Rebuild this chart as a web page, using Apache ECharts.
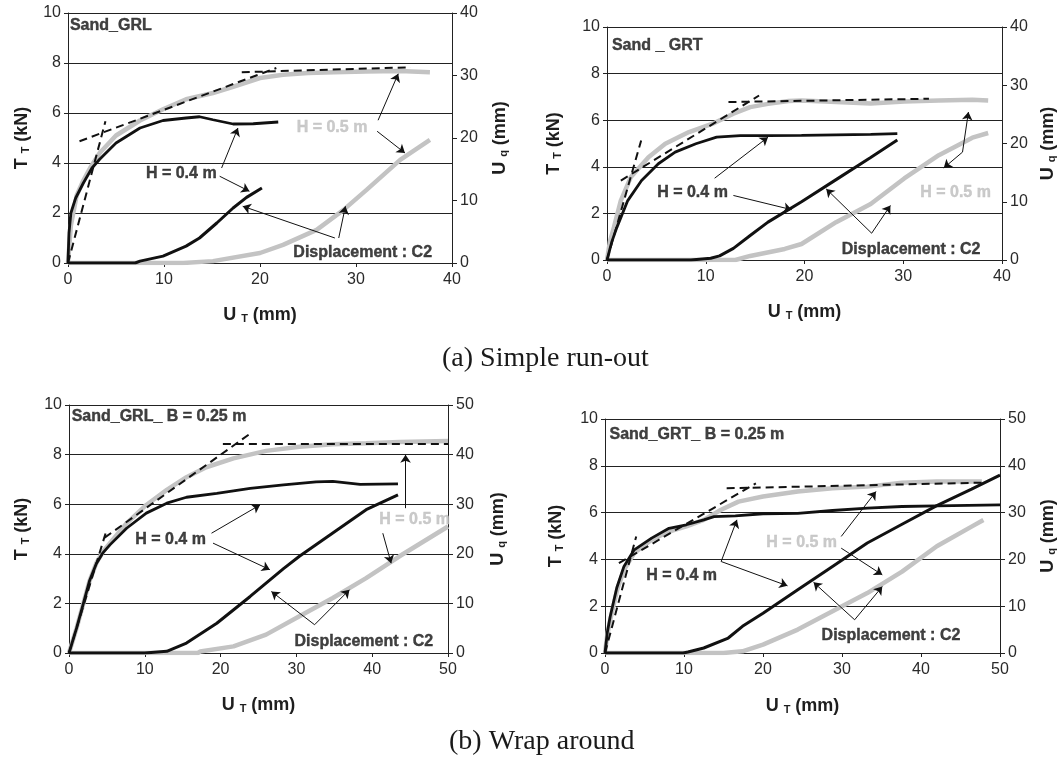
<!DOCTYPE html>
<html>
<head>
<meta charset="utf-8">
<script src="https://cdn.jsdelivr.net/npm/echarts@6/dist/echarts.min.js"></script>
<style>
  html, body { margin: 0; background: #fff; }
  #chart { width: 1064px; height: 763px; }
</style>
</head>
<body>
<div id="chart"></div>
<script>
// --- (a) simple run-out, Sand_GRL ---  [U_T mm, T_T kN] / [U_T mm, U_q mm]
const p1Gray = [[0,0],[0.3,1.5],[0.9,2.7],[1.6,3.3],[2.3,3.8],[3.3,4.4],[5,5.1],[7.5,5.7],[9.9,6.15],[12.3,6.55],[15.1,6.8],[17.2,7.05],[20,7.4],[22.4,7.53],[25,7.6],[27.7,7.63],[31,7.66],[34.6,7.68],[37.7,7.63]];
const p1Black = [[0,0],[0.1,1.2],[0.3,2.0],[0.8,2.6],[1.6,3.2],[2.5,3.8],[3.3,4.15],[5,4.8],[7.5,5.4],[9.9,5.7],[12.3,5.8],[13.7,5.85],[15.1,5.73],[17.2,5.56],[19.3,5.57],[21.9,5.64]];
const p1Dash = [[[0,0],[3.9,5.67]], [[1.2,4.87],[21.7,7.8]], [[18.1,7.63],[35.7,7.83]]];
const p1BlackDisp = [[0,0],[7,0],[7.5,0.3],[9.9,1.1],[12.3,2.7],[13.7,4],[15.5,6.4],[17.2,8.8],[18.6,10.5],[20.2,12]];
const p1GrayDisp = [[0,0],[12,0],[15.1,0.3],[20,1.6],[22.4,2.9],[25.9,5.3],[28.7,8.5],[31.1,11.7],[34.6,16.5],[37.7,19.7]];
const p1Notes = [[0.2,9.5,'Sand_GRL','k','left'],[27.5,5.4,'H = 0.5 m','g'],[11.8,3.57,'H = 0.4 m','k'],[30.7,0.43,'Displacement : C2','k']];
const p1Arrows = [[32.3,5.71,34.4,7.57],[32.2,5.27,35.1,4.4],[16.0,3.8,17.7,5.4],[15.8,3.47,18.9,2.87],[27.8,1.0,18.2,2.27],[28.2,1.0,28.9,2.27]];

// --- (a) simple run-out, Sand_GRT ---
const p2Gray = [[0,0],[0.3,0.8],[0.7,1.4],[1.4,2.55],[2.4,3.55],[4.2,4.41],[5.9,4.99],[8.3,5.49],[10.7,5.85],[12.8,6.28],[14.5,6.56],[16.3,6.7],[18.4,6.82],[19.7,6.85],[23.2,6.78],[26.7,6.72],[30.1,6.8],[33.6,6.85],[37,6.88],[38.6,6.85]];
const p2Black = [[0,0],[0.5,0.8],[1,1.4],[2.1,2.55],[3.5,3.41],[5.2,4.13],[6.9,4.63],[9,4.99],[11.1,5.27],[13.5,5.34],[16.3,5.34],[19.7,5.35],[23.2,5.37],[26.7,5.39],[29.4,5.42]];
const p2Dash = [[[0,0],[3.46,5.13]], [[1.4,3.41],[15.4,7.06]], [[12.3,6.78],[32.6,6.92]]];
const p2BlackDisp = [[0,0],[8.5,0],[10.5,0.3],[11.4,0.7],[12.8,2.0],[14.5,4.2],[16.3,6.5],[19.7,10],[23.2,13.8],[26.7,17.6],[29.4,20.6]];
const p2GrayDisp = [[0,0],[13,0],[14.5,0.7],[18,1.9],[19.7,2.75],[23.2,6.5],[26.7,9.6],[30.1,14],[33.6,18],[37,21],[38.6,21.8]];
const p2Notes = [[0.5,9.21,'Sand _ GRT','k','left'],[8.66,2.88,'H = 0.4 m','k'],[35.3,2.88,'H = 0.5 m','g'],[30.8,0.43,'Displacement : C2','k']];
const p2Arrows = [[10.9,3.51,16.3,5.27],[12.8,2.77,18.7,2.16],[36,4.63,36.6,6.35],[36,4.63,34.1,3.95],[26.8,1.15,22.2,3.05],[26.8,1.15,28.7,2.34]];

// --- (b) wrap around, Sand_GRL B = 0.25 m ---
const p3Gray = [[0,0],[1,1],[1.9,2.0],[2.7,2.9],[3.6,3.62],[4.5,4.1],[5.4,4.43],[7.6,5.23],[10.2,5.97],[12.9,6.58],[15.5,7.09],[18.1,7.49],[21.7,7.85],[26,8.15],[30.4,8.32],[34.8,8.42],[39.2,8.46],[43.6,8.51],[50,8.55]];
const p3Black = [[0,0],[1,1],[1.9,2.0],[2.7,2.9],[3.6,3.6],[4.5,4.05],[5.4,4.36],[7.6,5.03],[10.2,5.64],[12.9,6.04],[15.5,6.28],[19.5,6.44],[23.9,6.64],[28.3,6.78],[32.6,6.9],[34.8,6.92],[38.4,6.8],[43.4,6.82]];
const p3Dash = [[[0,0],[4.9,4.9]], [[4.7,4.65],[24.1,8.89]], [[20.3,8.43],[50,8.43]]];
const p3BlackDisp = [[0,0],[10,0],[12.9,0.34],[15.5,2.0],[19.5,6.0],[23.9,11.4],[28.3,17],[30.4,19.5],[34.8,24.2],[39.2,28.9],[43.4,31.9]];
const p3GrayDisp = [[0,0],[17,0],[17.3,0.3],[21.7,1.34],[26,3.7],[30.4,7.4],[34.8,11.1],[39.2,15.1],[43.6,19.5],[50,25.5]];
const p3Notes = [[0.35,9.53,'Sand_GRL_ B = 0.25 m','k','left'],[13.4,4.56,'H = 0.4 m','k'],[45.6,5.37,'H = 0.5 m','g'],[38.9,0.47,'Displacement : C2','k']];
const p3Arrows = [[18.8,4.83,25.2,5.97],[19,4.43,26.5,3.36],[44.4,5.84,44.4,7.99],[41.4,4.83,42.5,3.62],[32.4,1.14,26.7,2.48],[32.4,1.14,37,2.55]];

// --- (b) wrap around, Sand_GRT B = 0.25 m ---
const p4Gray = [[0,0],[0.3,0.8],[0.66,1.42],[1.54,2.7],[2.4,3.56],[3.7,4.27],[5.9,4.84],[8.1,5.19],[10.3,5.41],[12.5,5.69],[14.7,6.12],[16.9,6.47],[20,6.69],[24.4,6.9],[28.8,7.04],[33.2,7.11],[37.6,7.28],[42,7.33],[47.7,7.33]];
const p4Black = [[0,0],[0.3,0.9],[0.66,1.56],[1.5,2.8],[2.4,3.7],[3.7,4.41],[5.9,4.91],[8.1,5.33],[10.3,5.48],[12.5,5.69],[13.8,5.83],[16.5,5.86],[20,5.95],[24.4,5.97],[28.8,6.09],[33.2,6.19],[37.6,6.26],[42,6.29],[50,6.33]];
const p4Dash = [[[0,0],[3.95,4.98]], [[1.76,3.84],[19.1,7.25]], [[15.4,7.04],[47.9,7.28]]];
const p4BlackDisp = [[0,0],[9.9,0],[10.5,0.2],[12.5,1.07],[15.6,3.2],[17.4,5.7],[20,8.5],[24.4,13.5],[28.8,18.5],[33.2,23.5],[37.6,27.5],[42,31.5],[46.4,35],[50,38]];
const p4GrayDisp = [[0,0],[15,0],[17.4,0.36],[20,1.8],[24.4,5.0],[28.8,8.9],[33.2,12.8],[37.6,17.4],[42,22.8],[46.4,27],[47.9,28.4]];
const p4Notes = [[0.57,9.32,'Sand_GRT_ B = 0.25 m','k','left'],[24.9,4.72,'H = 0.5 m','g'],[9.7,3.3,'H = 0.4 m','k'],[36.2,0.74,'Displacement : C2','k']];
const p4Arrows = [[29.9,4.98,34.3,6.9],[29.9,4.48,35.1,3.34],[14.7,3.91,16.7,5.69],[14.7,3.91,23.1,2.87],[31.6,1.42,26.4,3.02],[31.6,1.42,35.1,2.84]];

const captions = ['(a) Simple run-out', '(b) Wrap around'];

const FONT = 'Liberation Sans, Arial, sans-serif';
const SERIF = 'Liberation Serif, Times New Roman, serif';
const INK = '#111111';
const GREY = '#c3c3c3';
const GREY_TXT = '#bdbdbd';

const panels = [
  { grid: { left: 68, top: 13, width: 384, height: 250 }, xMax: 40, uMax: 40, gaps: [37, 39, 43],
    gray: p1Gray, black: p1Black, dash: p1Dash, blackU: p1BlackDisp, grayU: p1GrayDisp, notes: p1Notes, arrows: p1Arrows },
  { grid: { left: 607, top: 27, width: 395, height: 233 }, xMax: 40, uMax: 40, gaps: [44, 37, 43],
    gray: p2Gray, black: p2Black, dash: p2Dash, blackU: p2BlackDisp, grayU: p2GrayDisp, notes: p2Notes, arrows: p2Arrows },
  { grid: { left: 69, top: 405, width: 379, height: 248 }, xMax: 50, uMax: 50, gaps: [38, 41, 43],
    gray: p3Gray, black: p3Black, dash: p3Dash, blackU: p3BlackDisp, grayU: p3GrayDisp, notes: p3Notes, arrows: p3Arrows },
  { grid: { left: 605, top: 419, width: 395, height: 234 }, xMax: 50, uMax: 50, gaps: [40, 39, 44],
    gray: p4Gray, black: p4Black, dash: p4Dash, blackU: p4BlackDisp, grayU: p4GrayDisp, notes: p4Notes, arrows: p4Arrows },
];

const axisLine = { show: true, lineStyle: { color: '#222', width: 1 } };
const tickLabel = { fontSize: 16, color: '#2a2a2a', fontFamily: FONT };
const nameStyle = {
  fontSize: 18, fontWeight: 'bold', color: '#1e1e1e', fontFamily: FONT,
  rich: { s: { fontSize: 11, fontWeight: 'bold', color: '#1e1e1e', fontFamily: FONT, verticalAlign: 'bottom' } }
};

const grids = [], xAxes = [], yAxes = [], series = [];

panels.forEach((p, i) => {
  grids.push(p.grid);
  xAxes.push({
    gridIndex: i, type: 'value', min: 0, max: p.xMax, interval: 10,
    name: 'U {s|T} (mm)', nameLocation: 'middle', nameGap: p.gaps[2], nameTextStyle: nameStyle,
    axisLine: axisLine, axisTick: { show: true, length: 4, lineStyle: { color: '#222' } },
    axisLabel: Object.assign({ margin: 9 }, tickLabel), splitLine: { show: false },
  });
  yAxes.push({
    gridIndex: i, type: 'value', position: 'left', min: 0, max: 10, interval: 2,
    name: 'T {s|T} (kN)', nameLocation: 'middle', nameRotate: 90, nameGap: p.gaps[0], nameTextStyle: nameStyle,
    axisLine: axisLine, axisTick: { show: true, length: 4, lineStyle: { color: '#222' } },
    axisLabel: Object.assign({ margin: 7 }, tickLabel),
    splitLine: { show: true, lineStyle: { color: '#222', width: 1 } },
  });
  yAxes.push({
    gridIndex: i, type: 'value', position: 'right', min: 0, max: p.uMax, interval: 10,
    name: 'U {s|q} (mm)', nameLocation: 'middle', nameRotate: 90, nameGap: p.gaps[1], nameTextStyle: nameStyle,
    axisLine: axisLine, axisTick: { show: true, length: 5, lineStyle: { color: '#222' } },
    axisLabel: Object.assign({ margin: 8 }, tickLabel), splitLine: { show: false },
  });

  const base = { type: 'line', xAxisIndex: i, showSymbol: false, symbol: 'none', silent: true, animation: false };
  const yl = 2 * i, yr = 2 * i + 1;

  // displacements (right axis)
  series.push(Object.assign({}, base, { yAxisIndex: yr, data: p.grayU, lineStyle: { color: GREY, width: 4.5 }, z: 2 }));
  series.push(Object.assign({}, base, { yAxisIndex: yr, data: p.blackU, lineStyle: { color: INK, width: 3 }, z: 3 }));
  // tensile force (left axis)
  series.push(Object.assign({}, base, { yAxisIndex: yl, data: p.gray, lineStyle: { color: GREY, width: 4.5 }, z: 2 }));
  series.push(Object.assign({}, base, { yAxisIndex: yl, data: p.black, lineStyle: { color: INK, width: 2.8 }, z: 3 }));
  // tangent dashed lines
  p.dash.forEach(seg => {
    series.push(Object.assign({}, base, { yAxisIndex: yl, data: seg, lineStyle: { color: INK, width: 2, type: [8, 5] }, z: 4 }));
  });
  // labels + arrows
  series.push({
    type: 'scatter', xAxisIndex: i, yAxisIndex: yl, symbolSize: 1, silent: true, animation: false, z: 5,
    itemStyle: { color: 'rgba(0,0,0,0)' },
    data: p.notes.map(n => {
      const c = n[3] === 'g' ? GREY_TXT : INK;
      return {
        value: [n[0], n[1]], name: n[2],
        label: { color: c, textBorderColor: c, textBorderWidth: 0.4, align: n[4] || 'center' }
      };
    }),
    label: { show: true, position: 'inside', formatter: '{b}', fontSize: 16, fontWeight: 'bold', fontFamily: FONT },
    markLine: {
      silent: true, animation: false, symbol: ['none', 'arrow'], symbolSize: 8,
      itemStyle: { color: INK },
      lineStyle: { color: INK, width: 1, type: 'solid' }, label: { show: false },
      data: p.arrows.map(a => [{ coord: [a[0], a[1]] }, { coord: [a[2], a[3]] }])
    }
  });
});

const chart = echarts.init(document.getElementById('chart'));
chart.setOption({
  backgroundColor: '#fff',
  animation: false,
  title: [
    { text: captions[0], left: 437, top: 340, textStyle: { fontFamily: SERIF, fontSize: 28, fontWeight: 'normal', color: '#1a1a1a' } },
    { text: captions[1], left: 444, top: 723, textStyle: { fontFamily: SERIF, fontSize: 28, fontWeight: 'normal', color: '#1a1a1a' } },
  ],
  grid: grids,
  xAxis: xAxes,
  yAxis: yAxes,
  series: series,
});
</script>
</body>
</html>
